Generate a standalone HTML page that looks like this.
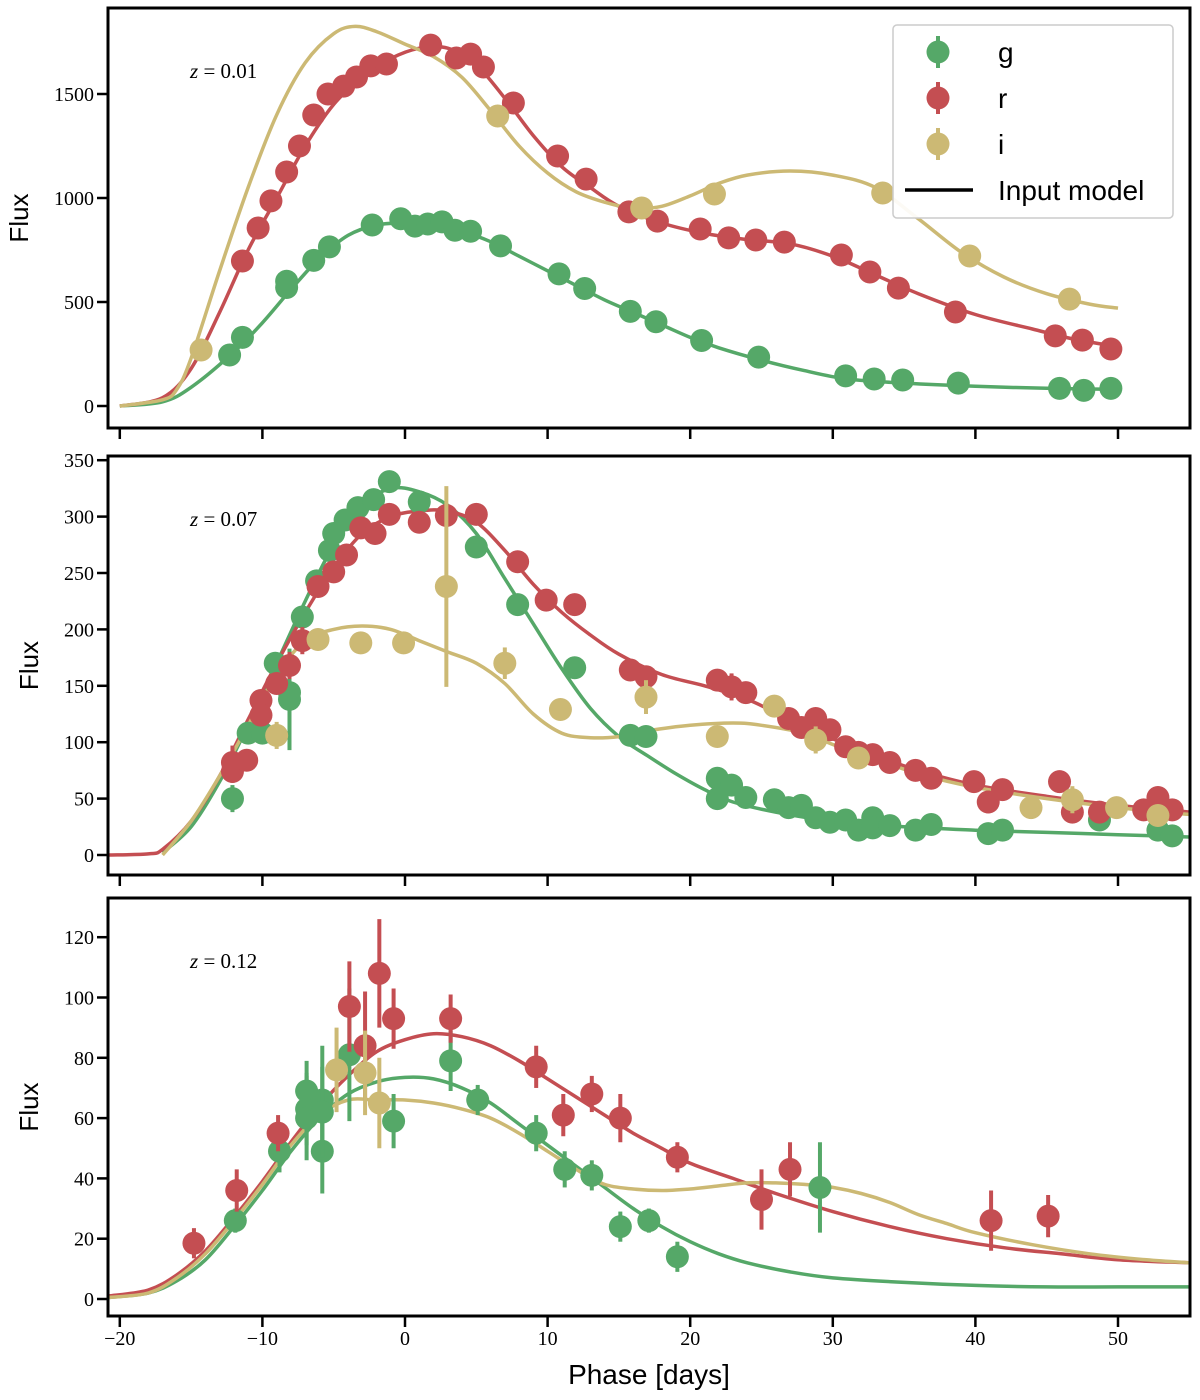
<!DOCTYPE html>
<html><head><meta charset="utf-8"><style>
body{margin:0;background:#fff}
svg{display:block}
</style></head><body>
<svg id="c" width="1200" height="1400" xmlns="http://www.w3.org/2000/svg"></svg>
<script>
const ticksX=[-20,-10,0,10,20,30,40,50];
const tickLabelsX=["−20","−10","0","10","20","30","40","50"];
// Panel 1 data (z=0.01)
const p1g=[[-12.3,245],[-11.4,330],[-8.3,570],[-8.3,600],[-6.4,700],[-5.3,765],[-2.3,870],[-0.3,900],[0.7,865],[1.6,875],[2.6,885],[3.5,845],[4.6,840],[6.7,770],[10.8,635],[12.6,565],[15.8,455],[17.6,405],[20.8,315],[24.8,235],[30.9,145],[32.9,130],[34.9,125],[38.8,110],[45.9,85],[47.6,75],[49.5,85]];
const p1r=[[-11.4,697],[-10.3,856],[-9.4,986],[-8.3,1125],[-7.4,1250],[-6.4,1399],[-5.4,1500],[-4.3,1538],[-3.4,1582],[-2.4,1635],[-1.3,1644],[1.8,1735],[3.6,1673],[4.6,1692],[5.5,1630],[7.6,1457],[10.7,1202],[12.7,1091],[15.7,933],[17.7,889],[20.7,851],[22.7,808],[24.6,798],[26.6,788],[30.6,726],[32.6,644],[34.6,567],[38.6,452],[45.6,337],[47.5,317],[49.5,274]];
const p1i=[[-14.3,269],[6.5,1394],[16.6,952],[21.7,1019],[33.5,1024],[39.6,721],[46.6,514]];
const p1gm=[[-20,0],[-17,20],[-15,90],[-12,260],[-10,400],[-8,560],[-6,710],[-4,820],[-2,870],[0,880],[2,870],[4,840],[6,790],[8,720],[10,650],[12,580],[14,510],[16,450],[18,390],[20,330],[22,280],[25,220],[28,170],[31,130],[35,110],[40,95],[45,85],[50,80]];
const p1rm=[[-20,0],[-17,40],[-15,180],[-13,450],[-11,750],[-9,1000],[-7,1250],[-5,1450],[-3,1580],[-1,1670],[1,1720],[3,1720],[5,1640],[7,1480],[9,1300],[11,1150],[13,1050],[15,960],[18,880],[21,830],[24,800],[27,780],[30,720],[33,630],[36,540],[40,440],[44,370],[47,320],[50,285]];
const p1im=[[-20,0],[-17,30],[-16,80],[-15,230],[-13,650],[-11,1050],[-9,1400],[-7,1650],[-5,1790],[-3.5,1825],[-2,1800],[0,1740],[2,1680],[4,1580],[6,1420],[8,1250],[10,1120],[12,1030],[14,980],[16,950],[18,960],[20,1010],[22,1070],[24,1110],[27,1130],[30,1110],[33,1050],[36,900],[39,740],[42,620],[45,540],[48,490],[50,470]];
// Panel 2 data (z=0.07) [day, flux, err]
const p2g=[[-12.1,50,12],[-11,108,8],[-10,108,8],[-9.1,170,8],[-8.1,144,20],[-8.1,138,45],[-7.2,211,8],[-6.2,243,6],[-5.3,270,6],[-5,285,6],[-4.2,297,6],[-3.3,308,6],[-2.2,315,6],[-1.1,331,6],[1,313,6],[5,273,6],[7.9,222,6],[11.9,166,6],[15.8,106,6],[16.9,105,6],[21.9,68,6],[21.9,50,6],[22.9,62,6],[23.9,51,6],[25.9,49,5],[26.9,42,5],[27.8,44,5],[28.8,33,5],[29.8,29,5],[30.9,31,5],[31.8,22,5],[32.8,33,5],[32.8,24,5],[34,26,5],[35.8,22,5],[36.9,27,5],[40.9,19,5],[41.9,22,5],[48.7,31,5],[52.8,22,5],[53.8,17,5]];
const p2r=[[-12.1,82,15],[-12.1,74,10],[-11.1,84,8],[-10.1,137,8],[-10.1,124,8],[-9,152,8],[-8.1,168,12],[-7.2,190,12],[-6.1,238,8],[-5,251,6],[-4.1,266,6],[-3.1,290,6],[-2.1,285,6],[-1.1,302,6],[1,295,6],[2.9,301,6],[5,302,6],[7.9,260,6],[9.9,226,6],[11.9,222,6],[15.8,164,8],[16.9,158,8],[21.9,155,8],[22.9,149,12],[23.9,144,8],[26.9,121,8],[27.8,113,8],[28.8,121,8],[29.8,111,8],[30.9,96,8],[31.8,91,8],[32.8,89,8],[34,82,8],[35.8,75,8],[36.9,68,8],[39.9,65,8],[40.9,47,10],[41.9,58,8],[45.9,65,10],[46.8,38,8],[48.7,38,8],[51.8,40,8],[52.8,51,8],[53.8,40,8]];
const p2i=[[-9,106,12],[-6.1,191,8],[-3.1,188,6],[-0.1,188,6],[2.9,238,89],[7,170,14],[10.9,129,8],[16.9,140,15],[21.9,105,6],[25.9,132,8],[28.8,102,12],[31.8,86,8],[43.9,42,10],[46.8,49,12],[49.9,42,8],[52.8,35,8]];
const p2gm=[[-17,2],[-15,25],[-13,65],[-11,115],[-9,170],[-7,225],[-5,275],[-3,310],[-1,325],[1,322],[3,310],[5,285],[7,245],[9,205],[11,165],[13,130],[15,105],[17,88],[19,72],[21,58],[23,47],[26,38],[30,30],[35,25],[40,22],[45,20],[50,18],[55,16]];
const p2rm=[[-20.8,0],[-18,1],[-17,5],[-15,30],[-13,70],[-11,120],[-9,170],[-7,215],[-5,255],[-3,285],[-1,300],[1,305],[3,305],[5,295],[7,270],[9,240],[11,215],[13,195],[15,178],[18,160],[21,150],[24,138],[27,120],[30,103],[33,88],[36,75],[40,62],[45,52],[50,44],[55,38]];
const p2im=[[-17,0],[-15,30],[-13,70],[-11,115],[-9,160],[-7,190],[-5,200],[-3,203],[-1,200],[1,190],[3,180],[5,170],[7,152],[9,125],[11,108],[13,104],[15,105],[17,110],[20,115],[23,117],[25,115],[28,108],[30,98],[33,85],[36,72],[40,60],[45,50],[50,42],[55,36]];
// Panel 3 data (z=0.12)
const p3g=[[-11.9,26,4],[-8.8,49,7],[-6.9,69,10],[-6.9,63,12],[-6.9,60,14],[-5.8,66,18],[-5.8,49,14],[-5.8,62,15],[-3.9,81,22],[-0.8,59,9],[3.2,79,10],[5.1,66,5],[9.2,55,6],[11.2,43,6],[13.1,41,5],[15.1,24,5],[17.1,26,4],[19.1,14,5],[29.1,37,15]];
const p3r=[[-14.8,18.5,5],[-11.8,36,7],[-8.9,55,6],[-3.9,97,15],[-2.8,84,18],[-1.8,108,18],[-0.8,93,10],[3.2,93,8],[9.2,77,7],[11.1,61,7],[13.1,68,6],[15.1,60,8],[19.1,47,5],[25,33,10],[27,43,9],[41.1,26,10],[45.1,27.5,7]];
const p3i=[[-4.8,76,14],[-2.8,75,14],[-1.8,65,15]];
const p3gm=[[-20.8,0.5],[-18,2],[-16,6],[-14,13],[-12,24],[-10,36],[-8,49],[-6,60],[-4,68],[-2,72],[0,73.5],[2,73],[4,70],[6,65],[8,58],[10,51],[12,44],[14,37],[16,30],[18,24],[20,19],[22,15],[24,12],[27,9],[30,7],[35,5.5],[40,4.5],[45,4],[50,4],[55,4]];
const p3rm=[[-20.8,1],[-18,3],[-16,8],[-14,16],[-12,27],[-10,39],[-8,52],[-6,64],[-4,74],[-2,82],[0,86],[2,88],[4,87],[6,84],[8,79],[10,73],[12,67],[14,61],[16,55],[18,50],[20,45],[23,40],[26,35],[30,29],[34,24],[38,20],[42,17],[46,15],[50,13],[55,12]];
const p3im=[[-20.8,0.5],[-18,2],[-16,7],[-14,15],[-12,26],[-10,38],[-8,51],[-6,61],[-4,66],[-2,66],[0,66],[2,65],[4,63],[6,60],[8,55],[10,49],[12,43],[14,38],[16,36.5],[18,36],[20,36.5],[22,37.5],[24,38.5],[26,38.5],[28,38],[30,37],[32,35],[34,32],[36,28],[38,25],[40,22],[44,18],[48,15],[52,13],[55,12]];
const ticksY1=[0,500,1000,1500];
const ticksY2=[0,50,100,150,200,250,300,350];
const ticksY3=[0,20,40,60,80,100,120];

const G="#55a868",R="#c44e52",Y="#ccb974";
const svg=document.getElementById('c');
const NS="http://www.w3.org/2000/svg";
function mk(tag,at,parent){const e=document.createElementNS(NS,tag);for(const k in at)e.setAttribute(k,at[k]);(parent||svg).appendChild(e);return e;}
const X0=108,X1=1190;
function xs(d){return 405+d*14.26;}
function smooth(P){
  let d='M'+P[0][0].toFixed(1)+','+P[0][1].toFixed(1);
  for(let i=0;i<P.length-1;i++){
    const p0=P[Math.max(0,i-1)],p1=P[i],p2=P[i+1],p3=P[Math.min(P.length-1,i+2)];
    const c1x=p1[0]+(p2[0]-p0[0])/6,c1y=p1[1]+(p2[1]-p0[1])/6;
    const c2x=p2[0]-(p3[0]-p1[0])/6,c2y=p2[1]-(p3[1]-p1[1])/6;
    d+='C'+c1x.toFixed(1)+','+c1y.toFixed(1)+' '+c2x.toFixed(1)+','+c2y.toFixed(1)+' '+p2[0].toFixed(1)+','+p2[1].toFixed(1);
  }
  return d;
}

function panel(name,top,bot,y0px,pxPerUnit,ticksY,label,z,models,pts,clipId){
  const ys=v=>y0px-v*pxPerUnit;
  const g=mk('g',{});
  
  
  const cp=mk('clipPath',{id:clipId},g);
  mk('rect',{x:X0,y:top,width:X1-X0,height:bot-top},cp);
  const plot=mk('g',{'clip-path':'url(#'+clipId+')'},g);
  const colors=[G,R,Y];
  const names=['g','r','i'];
  models.forEach((m,k)=>{
    const p=mk('path',{d:smooth(m.map(q=>[xs(q[0]),ys(q[1])])),fill:'none',stroke:colors[k],'stroke-width':3.5,'stroke-linejoin':'round'},plot);
    
    
  });
  pts.forEach((s,k)=>{
    s.forEach(q=>{
      if(q[2]!==undefined){
        const l=mk('line',{x1:xs(q[0]),x2:xs(q[0]),y1:ys(q[1]-q[2]),y2:ys(q[1]+q[2]),stroke:colors[k],'stroke-width':4},plot);
        
        
      }
      const c=mk('circle',{cx:xs(q[0]),cy:ys(q[1]),r:11.5,fill:colors[k]},plot);
      
      
    });
  });
  mk('rect',{x:X0,y:top,width:X1-X0,height:bot-top,fill:'none',stroke:'#000','stroke-width':3},g);
  ticksX.forEach((t,i)=>{
    mk('line',{x1:xs(t),x2:xs(t),y1:bot,y2:bot+11,stroke:'#000','stroke-width':2.5},g);
  });
  ticksY.forEach(t=>{
    mk('line',{x1:X0,x2:X0-11,y1:ys(t),y2:ys(t),stroke:'#000','stroke-width':2.5},g);
    const tx=mk('text',{x:X0-14,y:ys(t)+7,'text-anchor':'end','font-size':20,'font-family':'Liberation Serif, serif'},g);
    tx.textContent=t;
    
    
  });
  const yl=mk('text',{x:0,y:0,transform:'translate('+(label.x)+','+((top+bot)/2)+') rotate(-90)','text-anchor':'middle','font-size':26,'font-family':'Liberation Sans, sans-serif'},g);
  yl.textContent='Flux';
  
  
  const zt=mk('text',{x:190,y:top+70,'font-size':21,'font-family':'Liberation Serif, serif'},g);
  zt.innerHTML='<tspan font-style="italic">z</tspan> = '+z;
  
  
  return g;
}
panel('panel-z001',8,428,406,0.208,ticksY1,{x:28},'0.01',[p1gm,p1rm,p1im],[p1g,p1r,p1i],'cp1');
panel('panel-z007',456,875,855,1.128,ticksY2,{x:38},'0.07',[p2gm,p2rm,p2im],[p2g,p2r,p2i],'cp2');
panel('panel-z012',898,1316,1299,3.015,ticksY3,{x:38},'0.12',[p3gm,p3rm,p3im],[p3g,p3r,p3i],'cp3');
ticksX.forEach((t,i)=>{
  const tx=mk('text',{x:xs(t),y:1345,'text-anchor':'middle','font-size':20,'font-family':'Liberation Serif, serif'});
  tx.textContent=tickLabelsX[i];
  
  
});
const xl=mk('text',{x:649,y:1384,'text-anchor':'middle','font-size':28,'font-family':'Liberation Sans, sans-serif'});
xl.textContent='Phase [days]';


// legend
const lg=mk('g',{});


mk('rect',{x:893,y:25,width:280,height:193,rx:4,fill:'rgba(255,255,255,0.93)',stroke:'#ccc','stroke-width':1.5},lg);
const legItems=[['g',G,52],['r',R,98],['i',Y,144]];
legItems.forEach(it=>{
  mk('line',{x1:938,x2:938,y1:it[2]-16,y2:it[2]+16,stroke:it[1],'stroke-width':4},lg);
  mk('circle',{cx:938,cy:it[2],r:11.5,fill:it[1]},lg);
  const t=mk('text',{x:998,y:it[2]+10,'font-size':28,'font-family':'Liberation Sans, sans-serif'},lg);
  t.textContent=it[0];
  
  
});
mk('line',{x1:905,x2:973,y1:190,y2:190,stroke:'#000','stroke-width':3.5},lg);
const lt=mk('text',{x:998,y:200,'font-size':28,'font-family':'Liberation Sans, sans-serif'},lg);
lt.textContent='Input model';


</script>
</body></html>
